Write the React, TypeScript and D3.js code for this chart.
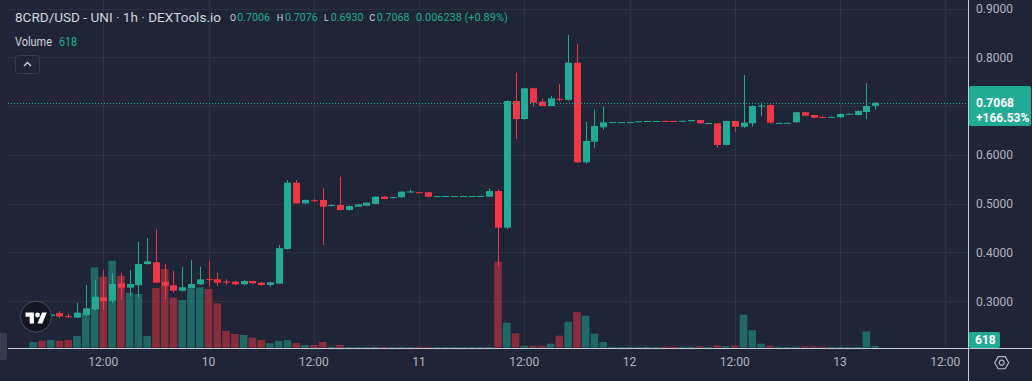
import React from "react";
import * as d3 from "d3";

const W = 1032;
const H = 381;

const startHour = 4; // first candle: day 9, 04:00
const openP = [
  0.2700, 0.2730, 0.2700, 0.2760, 0.2695, 0.2667, 0.2719, 0.2836, 0.3082, 0.3012,
  0.3369, 0.3279, 0.3330, 0.3764, 0.3800, 0.3402, 0.3328, 0.3217, 0.3273, 0.3348,
  0.3455, 0.3450, 0.3405, 0.3402, 0.3348, 0.3416, 0.3382, 0.3334, 0.3362, 0.4072,
  0.5430, 0.5008, 0.5070, 0.5076, 0.4960, 0.4973, 0.4871, 0.4939, 0.4959, 0.4994,
  0.5144, 0.5128, 0.5131, 0.5240, 0.5236, 0.5234, 0.5150, 0.5152, 0.5151, 0.5152,
  0.5150, 0.5152, 0.5144, 0.5260, 0.4508, 0.7104, 0.6735, 0.7365, 0.7090, 0.7002,
  0.7150, 0.7125, 0.7890, 0.5848, 0.6270, 0.6566, 0.6665, 0.6665, 0.6668, 0.6670,
  0.6688, 0.6690, 0.6697, 0.6695, 0.6690, 0.6690, 0.6715, 0.6647, 0.6647, 0.6203,
  0.6695, 0.6578, 0.6647, 0.7000, 0.7023, 0.6650, 0.6652, 0.6668, 0.6873, 0.6818,
  0.6780, 0.6774, 0.6770, 0.6835, 0.6818, 0.6879, 0.7006,
];
const highP = [
  0.2745, 0.2755, 0.2740, 0.2800, 0.2750, 0.2970, 0.3334, 0.3437, 0.3640, 0.3574,
  0.3587, 0.3640, 0.4222, 0.4291, 0.4475, 0.3764, 0.3627, 0.3709, 0.3846, 0.3709,
  0.3832, 0.3587, 0.3450, 0.3420, 0.3430, 0.3420, 0.3390, 0.3400, 0.4154, 0.5486,
  0.5486, 0.5090, 0.5090, 0.5316, 0.4990, 0.5554, 0.4960, 0.5000, 0.5030, 0.5150,
  0.5160, 0.5140, 0.5250, 0.5290, 0.5240, 0.5240, 0.5160, 0.5160, 0.5160, 0.5160,
  0.5158, 0.5160, 0.5316, 0.5290, 0.7120, 0.7685, 0.7365, 0.7380, 0.7150, 0.7207,
  0.7453, 0.8457, 0.8266, 0.6680, 0.6934, 0.6988, 0.6675, 0.6672, 0.6675, 0.6692,
  0.6698, 0.6698, 0.6700, 0.6698, 0.6702, 0.6720, 0.6720, 0.6660, 0.6650, 0.6700,
  0.6700, 0.7637, 0.7020, 0.7070, 0.7050, 0.6660, 0.6662, 0.6880, 0.6880, 0.6820,
  0.6785, 0.6785, 0.6850, 0.6848, 0.6910, 0.7467, 0.7076,
];
const lowP = [
  0.2680, 0.2690, 0.2680, 0.2660, 0.2660, 0.2650, 0.2700, 0.2810, 0.2820, 0.2960,
  0.3027, 0.3110, 0.3082, 0.3750, 0.3382, 0.3040, 0.3176, 0.3197, 0.3266, 0.3334,
  0.3300, 0.3313, 0.3340, 0.3330, 0.3330, 0.3350, 0.3320, 0.3300, 0.3350, 0.4060,
  0.5000, 0.5000, 0.5040, 0.4154, 0.4950, 0.4860, 0.4860, 0.4930, 0.4950, 0.4990,
  0.5090, 0.5120, 0.5130, 0.5220, 0.5225, 0.5140, 0.5148, 0.5150, 0.5148, 0.5150,
  0.5148, 0.5150, 0.5140, 0.3709, 0.4480, 0.6326, 0.6720, 0.7002, 0.7000, 0.7000,
  0.7100, 0.7110, 0.5840, 0.5820, 0.6148, 0.6520, 0.6660, 0.6660, 0.6665, 0.6668,
  0.6685, 0.6688, 0.6688, 0.6685, 0.6688, 0.6688, 0.6640, 0.6640, 0.6148, 0.6190,
  0.6475, 0.6550, 0.6580, 0.6797, 0.6640, 0.6645, 0.6648, 0.6660, 0.6800, 0.6760,
  0.6770, 0.6770, 0.6760, 0.6830, 0.6810, 0.6730, 0.6930,
];
const closeP = [
  0.2725, 0.2700, 0.2730, 0.2690, 0.2685, 0.2767, 0.2856, 0.3094, 0.3006, 0.3355,
  0.3279, 0.3355, 0.3764, 0.3818, 0.3382, 0.3320, 0.3217, 0.3287, 0.3355, 0.3450,
  0.3445, 0.3382, 0.3398, 0.3348, 0.3416, 0.3369, 0.3334, 0.3389, 0.4090, 0.5430,
  0.5008, 0.5076, 0.5055, 0.4939, 0.4973, 0.4871, 0.4953, 0.4987, 0.5021, 0.5144,
  0.5097, 0.5134, 0.5246, 0.5250, 0.5230, 0.5144, 0.5156, 0.5158, 0.5157, 0.5158,
  0.5156, 0.5158, 0.5260, 0.4508, 0.7104, 0.6735, 0.7365, 0.7070, 0.7002, 0.7160,
  0.7140, 0.7890, 0.5848, 0.6285, 0.6592, 0.6668, 0.6672, 0.6670, 0.6672, 0.6690,
  0.6695, 0.6695, 0.6690, 0.6688, 0.6700, 0.6715, 0.6647, 0.6654, 0.6203, 0.6695,
  0.6578, 0.6660, 0.7002, 0.7009, 0.6660, 0.6656, 0.6658, 0.6873, 0.6803, 0.6763,
  0.6774, 0.6780, 0.6838, 0.6842, 0.6900, 0.7002, 0.7068,
];
const volumes = [
  1880, 2310, 2540, 2310, 2540, 3860, 11350, 26530, 23430, 28710,
  23660, 18150, 17720, 3860, 19700, 25970, 16500, 15740, 19600, 19930,
  19370, 14650, 5510, 4520, 4190, 3300, 2540, 1450, 2210, 2540,
  1550, 890, 890, 1880, 330, 890, 250, 200, 300, 350,
  280, 150, 320, 180, 260, 300, 120, 110, 130, 100,
  120, 110, 330, 28380, 8250, 4750, 660, 660, 660, 1320,
  3960, 8580, 11750, 10560, 4620, 1850, 300, 250, 300, 280,
  350, 260, 400, 380, 330, 350, 500, 300, 760, 560,
  760, 10890, 5740, 1320, 660, 300, 280, 350, 450, 420,
  380, 300, 330, 250, 330, 5380, 618,
];

const priceTicks = [0.3, 0.4, 0.5, 0.6, 0.7, 0.8, 0.9];
const timeTickHours = [12, 24, 36, 48, 60, 72, 84, 96, 108];
const timeTickLabels = ["12:00", "10", "12:00", "11", "12:00", "12", "12:00", "13", "12:00"];

const lastPrice = 0.7068;
const lastChangeLabel = "+166.53%";
const lastVolumeLabel = "618";
const titleText = "8CRD/USD - UNI · 1h · DEXTools.io";
const ohlcLabels = ["O", "H", "L", "C"];
const ohlcValues = ["0.7006", "0.7076", "0.6930", "0.7068"];
const changeText = "0.006238 (+0.89%)";

const BG = "#1f2536";
const GRID = "#2a3142";
const UP = "#22ab94";
const DOWN = "#f23645";
const UP_VOL = "rgba(34,171,148,0.5)";
const DOWN_VOL = "rgba(242,54,69,0.5)";
const TEXT = "#b2b5be";
const FONT = "Roboto, 'Noto Sans', sans-serif";

const paneLeft = 8;
const paneRight = 968;
const paneBottom = 348;

export default function App() {
  const x = d3.scaleLinear().domain([12, 96]).range([103.3, 840]);
  const y = d3.scaleLinear().domain([0.3, 0.9]).range([301.3, 8.5]);
  const v = d3.scaleLinear().domain([0, 40000]).range([347.7, 226.5]);

  const candles = openP.map((o, i) => ({
    t: startHour + i,
    o,
    h: highP[i],
    l: lowP[i],
    c: closeP[i],
    vol: volumes[i],
  }));

  const bodyW = 7;
  const volW = 7.6;
  const lastY = y(lastPrice);

  return (
    <svg
      width={W}
      height={H}
      style={{ position: "absolute", left: 0, top: 0, display: "block" }}
      fontFamily={FONT}
    >
      <defs>
        <clipPath id="pane">
          <rect x={paneLeft} y={0} width={paneRight - paneLeft} height={paneBottom} />
        </clipPath>
      </defs>
      <rect x={0} y={0} width={W} height={H} fill={BG} />

      {/* grid */}
      <g clipPath="url(#pane)">
        {priceTicks.map((p) => (
          <line key={"h" + p} x1={paneLeft} x2={paneRight} y1={Math.round(y(p)) + 0.5} y2={Math.round(y(p)) + 0.5} stroke={GRID} strokeWidth={1} />
        ))}
        {timeTickHours.map((t) => (
          <line key={"v" + t} x1={Math.round(x(t)) + 0.5} x2={Math.round(x(t)) + 0.5} y1={0} y2={paneBottom} stroke={GRID} strokeWidth={1} />
        ))}
      </g>

      {/* volume */}
      <g clipPath="url(#pane)">
        {candles.map((d) => {
          const top = v(d.vol);
          const hgt = Math.max(0.8, v(0) - top);
          return (
            <rect
              key={"vol" + d.t}
              x={x(d.t) - volW / 2}
              y={v(0) - hgt}
              width={volW}
              height={hgt}
              fill={d.c >= d.o ? UP_VOL : DOWN_VOL}
            />
          );
        })}
      </g>

      {/* candles */}
      <g clipPath="url(#pane)">
        {candles.map((d) => {
          const up = d.c >= d.o;
          const col = up ? UP : DOWN;
          const cx = Math.round(x(d.t)) + 0.5;
          const yTop = y(Math.max(d.o, d.c));
          const yBot = y(Math.min(d.o, d.c));
          const bh = Math.max(1, yBot - yTop);
          return (
            <g key={"c" + d.t}>
              <line x1={cx} x2={cx} y1={y(d.h)} y2={y(d.l)} stroke={col} strokeWidth={1} />
              <rect x={cx - bodyW / 2} y={yTop} width={bodyW} height={bh} fill={col} />
            </g>
          );
        })}
      </g>

      {/* last price dotted line */}
      <line x1={paneLeft} x2={paneRight} y1={Math.round(lastY) + 0.5} y2={Math.round(lastY) + 0.5} stroke={UP} strokeWidth={1} strokeDasharray="1 2" />

      {/* time axis border and price axis border */}
      <line x1={paneLeft} x2={W} y1={paneBottom + 0.5} y2={paneBottom + 0.5} stroke="#c9ccd4" strokeWidth={1} />
      <line x1={paneRight + 0.5} x2={paneRight + 0.5} y1={0} y2={H} stroke="#c9ccd4" strokeWidth={1} />

      {/* left scroll button */}
      <rect x={-4} y={333} width={11} height={27} rx={2} fill="#363d50" />

      {/* price axis labels */}
      {priceTicks
        .filter((p) => Math.abs(y(p) - lastY) > 16)
        .map((p) => (
          <text key={"pl" + p} x={976} y={y(p) + 4.3} fill={TEXT} fontSize={12}>
            {d3.format(".4f")(p)}
          </text>
        ))}

      {/* last price tag */}
      <rect x={paneRight + 1} y={86} width={62} height={40} rx={2} fill={UP} />
      <text x={976} y={lastY + 4.5} fill="#ffffff" fontSize={12} fontWeight={700}>
        {d3.format(".4f")(lastPrice)}
      </text>
      <text x={976} y={lastY + 19} fill="#ffffff" fontSize={12} fontWeight={700}>
        {lastChangeLabel}
      </text>

      {/* volume tag */}
      <rect x={paneRight + 1} y={332} width={31} height={16} rx={2} fill={UP} />
      <text x={975} y={344.3} fill="#ffffff" fontSize={12} fontWeight={700}>
        {lastVolumeLabel}
      </text>

      {/* time axis labels */}
      {timeTickHours.map((t, i) => (
        <text key={"tl" + t} x={x(t)} y={366} fill={TEXT} fontSize={12} textAnchor="middle">
          {timeTickLabels[i]}
        </text>
      ))}

      {/* settings hexagon */}
      <g transform="translate(1001.7,362.7)" fill="none" stroke={TEXT} strokeWidth={1.2}>
        <polygon points={d3.range(6).map((k) => {
          const a = (Math.PI / 3) * k;
          return `${7 * Math.cos(a)},${7 * Math.sin(a)}`;
        }).join(" ")} />
        <circle r={2.5} />
      </g>

      {/* TradingView logo */}
      <g>
        <circle cx={36} cy={316.7} r={15.5} fill="#131620" stroke="#4a4f5c" strokeWidth={1} />
        <g transform="translate(25.5,310.2) scale(0.6)" fill="#ffffff">
          <path d="M14 22H7V11H0V4h14v18zM28 22h-8l7.5-18h8L28 22z" />
          <circle cx={20} cy={8} r={4} />
        </g>
      </g>

      {/* header */}
      <text x={15} y={22} fill="#d1d4dc" fontSize={13.5} textLength={206} lengthAdjust="spacingAndGlyphs">
        {titleText}
      </text>
      {ohlcLabels.map((lab, i) => {
        const lx = [230, 276.7, 324, 369.3][i];
        const vx = [237.3, 285, 330.7, 376.7][i];
        const lw = [6, 6.5, 4.5, 6][i];
        return (
          <g key={"ohlc" + lab}>
            <text x={lx} y={20.7} fill="#d1d4dc" fontSize={9} textLength={lw} lengthAdjust="spacingAndGlyphs">{lab}</text>
            <text x={vx} y={20.7} fill={UP} fontSize={11.5} textLength={32.7} lengthAdjust="spacingAndGlyphs">
              {ohlcValues[i]}
            </text>
          </g>
        );
      })}
      <text x={416} y={20.7} fill={UP} fontSize={11.5} textLength={91.7} lengthAdjust="spacingAndGlyphs">
        {changeText}
      </text>
      <text x={15} y={46} fill="#d1d4dc" fontSize={13} textLength={37} lengthAdjust="spacingAndGlyphs">Volume</text>
      <text x={59} y={46} fill={UP} fontSize={13} textLength={18} lengthAdjust="spacingAndGlyphs">{lastVolumeLabel}</text>

      {/* collapse button */}
      <rect x={15.5} y={55.5} width={24} height={18} rx={3} fill={BG} stroke="#363c4e" strokeWidth={1} />
      <path d="M24 66 L27.5 62.5 L31 66" fill="none" stroke="#d1d4dc" strokeWidth={1.4} />
    </svg>
  );
}
